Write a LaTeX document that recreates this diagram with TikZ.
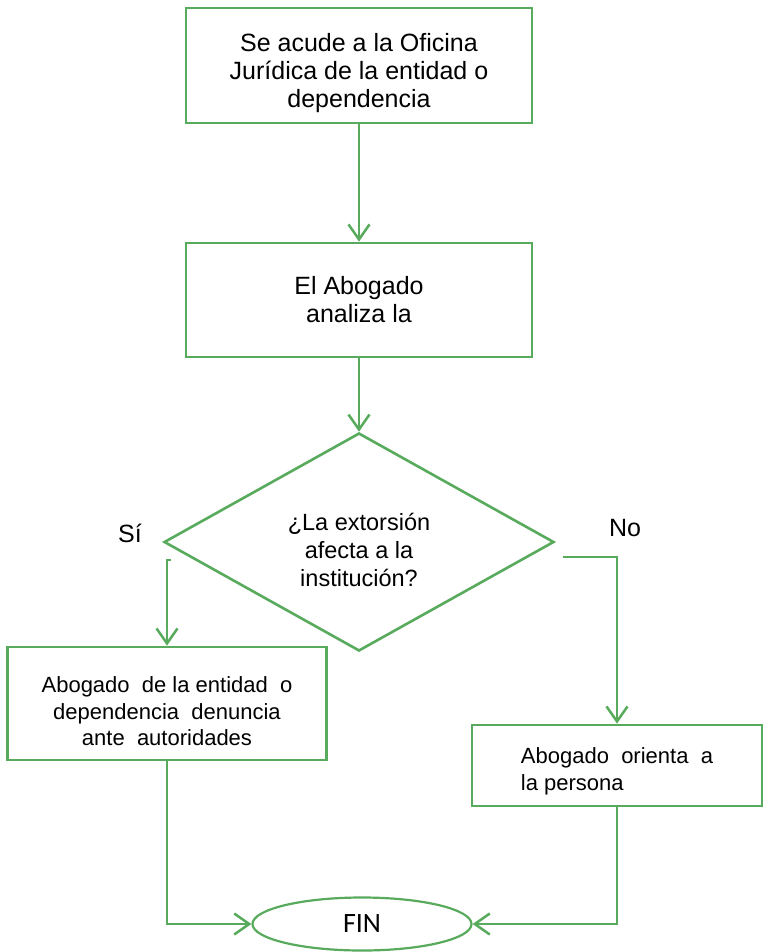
\documentclass[tikz,border=0pt]{standalone}
\usepackage{fontspec}
\setmainfont{Liberation Sans}
\newfontfamily\finfont{Carlito}
\usepackage{tikz}
\usetikzlibrary{positioning}
\usetikzlibrary{shapes.geometric}
\usetikzlibrary{arrows.meta}
\definecolor{verde}{RGB}{88,170,92}

\begin{document}
\begin{tikzpicture}[x=1pt,y=1pt,
caja/.style={draw=verde, line width=2.8pt, fill=white, align=center, inner sep=0pt, font=\fontsize{25}{28}\selectfont},
decision/.style={diamond, aspect=1.79, draw=verde, line width=2.6pt, align=center, inner sep=0pt, minimum width=390pt, minimum height=218pt, font=\fontsize{23.5}{28}\selectfont},
fin/.style={ellipse, draw=verde, line width=2.2pt, inner sep=0pt, minimum width=219pt, minimum height=53pt, font=\finfont\fontsize{28}{30}\selectfont},
etiqueta/.style={font=\fontsize{25}{28}\selectfont},
flecha/.style={draw=verde, line width=2.5pt, -{Straight Barb[length=15pt,width=21pt]}}]
\useasboundingbox (0,0) rectangle (764,-952);
\node[caja, minimum width=346pt, minimum height=115pt] (oficina) at (359,-65.5) {\rule{0pt}{33pt}Se acude a la Oficina\\Jurídica de la entidad o\\dependencia};
\node[caja, minimum width=346pt, minimum height=114pt] (analiza) at (359,-300) {El Abogado\\analiza la};
\node[decision] (afecta) at (359,-542) {\rule{0pt}{33pt}¿La extorsión\\afecta a la\\institución?};
\node[etiqueta] (si) at (130,-533) {Sí};
\node[etiqueta] (no) at (625,-528) {No};
\node[caja, minimum width=319pt, minimum height=113pt, font=\fontsize{22}{26.5}\selectfont] (denuncia) at (167,-703.5) {\rule{0pt}{32pt}Abogado\ \ de la entidad\ \ o\\dependencia\ \ denuncia\\ante\ \ autoridades};
\node[caja, minimum width=290pt, minimum height=81pt, align=left, font=\fontsize{22}{27}\selectfont] (orienta) at (617,-765.5) {\rule{0pt}{28pt}Abogado\ \ orienta\ \ a\\la persona};
\node[fin] (fin) at (362,-924) {FIN};
\coordinate (salesi) at (171,-560);
\coordinate (saleno) at (563,-557);
\draw[flecha] (oficina) -- (analiza);
\draw[flecha] (analiza) -- (afecta);
\draw[flecha] (salesi) -| (denuncia.north);
\draw[flecha] (saleno) -| (orienta.north);
\draw[flecha] (denuncia.south) |- (fin.west);
\draw[flecha] (orienta.south) |- (fin.east);
\end{tikzpicture}
\end{document}
